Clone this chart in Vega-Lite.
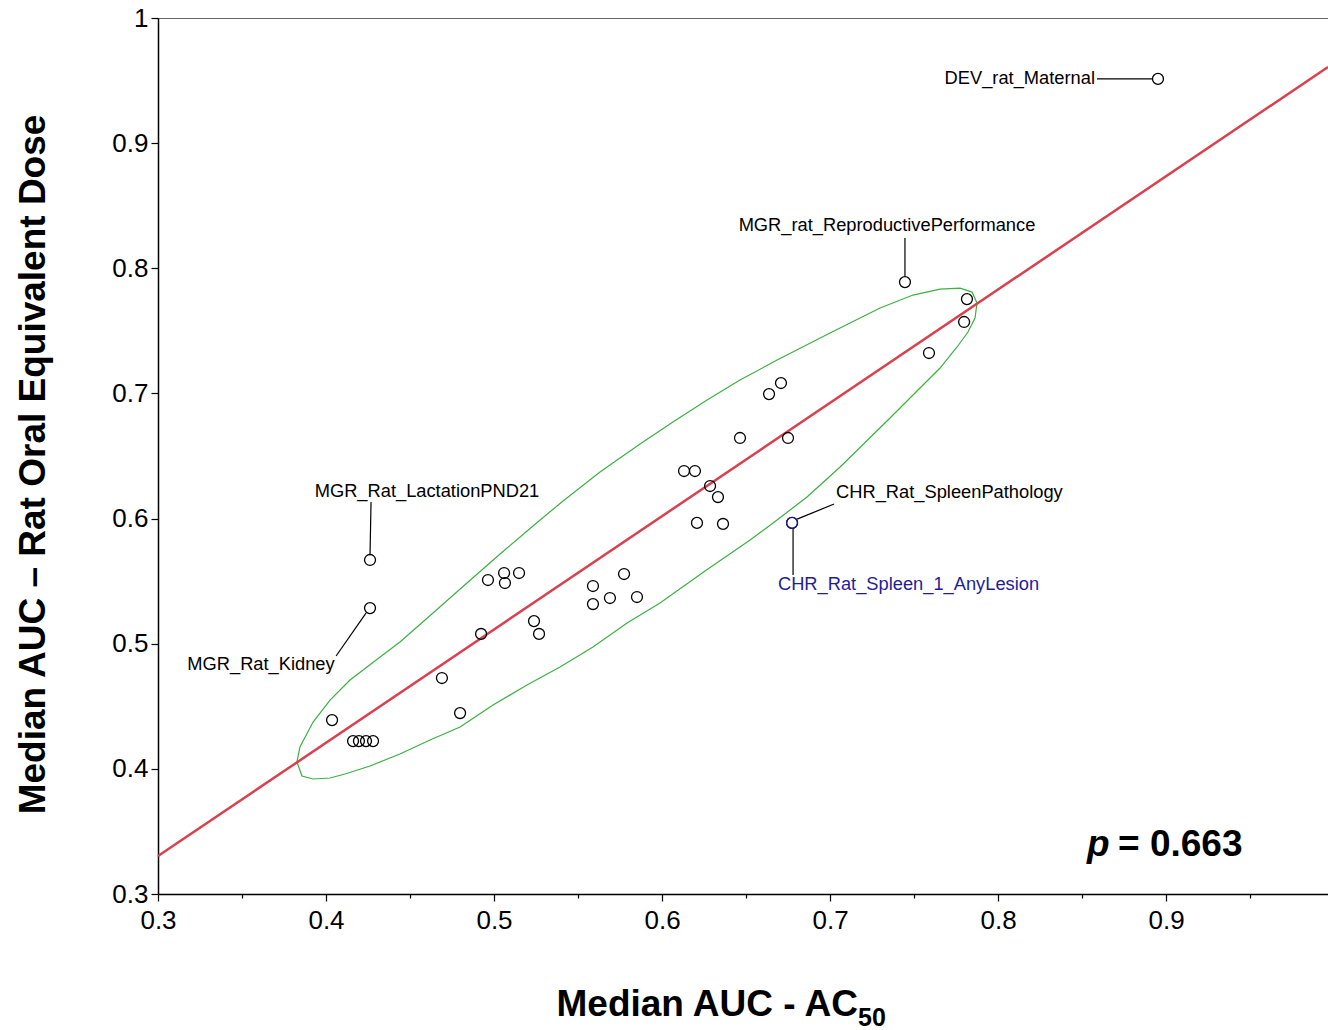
{
  "$schema": "https://vega.github.io/schema/vega-lite/v6.json",
  "width": 1170,
  "height": 876,
  "autosize": {"type": "none"},
  "padding": {"left": 158, "top": 18, "right": 0, "bottom": 136},
  "background": "white",
  "config": {
    "font": "Liberation Sans",
    "view": {"stroke": "#666", "strokeWidth": 1},
    "axis": {"grid": false, "domainColor": "black", "tickColor": "black", "labelColor": "black", "titleColor": "black", "labelFont": "Liberation Sans", "titleFont": "Liberation Sans"}
  },
  "datasets": {
    "ellipse": [
      {"order": 1, "x": 0.3827, "y": 0.4055},
      {"order": 2, "x": 0.3845, "y": 0.4175},
      {"order": 3, "x": 0.3923, "y": 0.4374},
      {"order": 4, "x": 0.4024, "y": 0.455},
      {"order": 5, "x": 0.4143, "y": 0.471},
      {"order": 6, "x": 0.4244, "y": 0.4814},
      {"order": 7, "x": 0.444, "y": 0.5014},
      {"order": 8, "x": 0.4637, "y": 0.5245},
      {"order": 9, "x": 0.4839, "y": 0.5485},
      {"order": 10, "x": 0.5036, "y": 0.5717},
      {"order": 11, "x": 0.5232, "y": 0.5941},
      {"order": 12, "x": 0.5411, "y": 0.6141},
      {"order": 13, "x": 0.5631, "y": 0.6372},
      {"order": 14, "x": 0.5869, "y": 0.6596},
      {"order": 15, "x": 0.6065, "y": 0.6772},
      {"order": 16, "x": 0.6268, "y": 0.6947},
      {"order": 17, "x": 0.6464, "y": 0.7107},
      {"order": 18, "x": 0.6685, "y": 0.7267},
      {"order": 19, "x": 0.7, "y": 0.7483},
      {"order": 20, "x": 0.7298, "y": 0.7683},
      {"order": 21, "x": 0.7494, "y": 0.7786},
      {"order": 22, "x": 0.7655, "y": 0.7834},
      {"order": 23, "x": 0.7774, "y": 0.7842},
      {"order": 24, "x": 0.7845, "y": 0.781},
      {"order": 25, "x": 0.7875, "y": 0.7723},
      {"order": 26, "x": 0.7863, "y": 0.7603},
      {"order": 27, "x": 0.7821, "y": 0.7491},
      {"order": 28, "x": 0.7756, "y": 0.7371},
      {"order": 29, "x": 0.7655, "y": 0.7203},
      {"order": 30, "x": 0.7357, "y": 0.6804},
      {"order": 31, "x": 0.706, "y": 0.6412},
      {"order": 32, "x": 0.6863, "y": 0.6172},
      {"order": 33, "x": 0.6661, "y": 0.5965},
      {"order": 34, "x": 0.6524, "y": 0.5829},
      {"order": 35, "x": 0.6256, "y": 0.5581},
      {"order": 36, "x": 0.5988, "y": 0.5325},
      {"order": 37, "x": 0.5792, "y": 0.5165},
      {"order": 38, "x": 0.5589, "y": 0.4974},
      {"order": 39, "x": 0.5393, "y": 0.4814},
      {"order": 40, "x": 0.5196, "y": 0.467},
      {"order": 41, "x": 0.4994, "y": 0.451},
      {"order": 42, "x": 0.4798, "y": 0.4334},
      {"order": 43, "x": 0.4619, "y": 0.423},
      {"order": 44, "x": 0.444, "y": 0.4119},
      {"order": 45, "x": 0.4262, "y": 0.4023},
      {"order": 46, "x": 0.4113, "y": 0.3959},
      {"order": 47, "x": 0.4024, "y": 0.3927},
      {"order": 48, "x": 0.3923, "y": 0.3919},
      {"order": 49, "x": 0.3857, "y": 0.3943},
      {"order": 50, "x": 0.3827, "y": 0.4055}
    ],
    "fit": [
      {"x": 0.3, "y": 0.3303},
      {"x": 0.9964, "y": 0.9608}
    ],
    "points": [
      {"name": "DEV_rat_Maternal", "x": 0.8952, "y": 0.9513},
      {"name": "MGR_rat_ReproductivePerformance", "x": 0.7446, "y": 0.789},
      {"name": "", "x": 0.7815, "y": 0.7754},
      {"name": "", "x": 0.7798, "y": 0.7571},
      {"name": "", "x": 0.7589, "y": 0.7323},
      {"name": "", "x": 0.6708, "y": 0.7083},
      {"name": "", "x": 0.6637, "y": 0.6995},
      {"name": "", "x": 0.6464, "y": 0.6644},
      {"name": "", "x": 0.675, "y": 0.6644},
      {"name": "", "x": 0.6131, "y": 0.638},
      {"name": "", "x": 0.6196, "y": 0.638},
      {"name": "", "x": 0.6286, "y": 0.626},
      {"name": "", "x": 0.6333, "y": 0.6172},
      {"name": "", "x": 0.6208, "y": 0.5965},
      {"name": "", "x": 0.6363, "y": 0.5957},
      {"name": "CHR_Rat_SpleenPathology", "x": 0.6774, "y": 0.5965},
      {"name": "CHR_Rat_Spleen_1_AnyLesion", "x": 0.6774, "y": 0.5965},
      {"name": "", "x": 0.5589, "y": 0.5461},
      {"name": "", "x": 0.5774, "y": 0.5557},
      {"name": "", "x": 0.5589, "y": 0.5317},
      {"name": "", "x": 0.569, "y": 0.5365},
      {"name": "", "x": 0.5851, "y": 0.5373},
      {"name": "", "x": 0.5238, "y": 0.5181},
      {"name": "", "x": 0.5268, "y": 0.5078},
      {"name": "", "x": 0.4964, "y": 0.5509},
      {"name": "", "x": 0.506, "y": 0.5565},
      {"name": "", "x": 0.5065, "y": 0.5485},
      {"name": "", "x": 0.5149, "y": 0.5565},
      {"name": "", "x": 0.4923, "y": 0.5078},
      {"name": "MGR_Rat_LactationPND21", "x": 0.4262, "y": 0.5669},
      {"name": "MGR_Rat_Kidney", "x": 0.4262, "y": 0.5285},
      {"name": "", "x": 0.469, "y": 0.4726},
      {"name": "", "x": 0.4798, "y": 0.4446},
      {"name": "", "x": 0.4036, "y": 0.439},
      {"name": "", "x": 0.4161, "y": 0.4222},
      {"name": "", "x": 0.4196, "y": 0.4222},
      {"name": "", "x": 0.4238, "y": 0.4222},
      {"name": "", "x": 0.428, "y": 0.4222}
    ],
    "leaders": [
      {"name": "DEV_rat_Maternal", "x": 0.8589, "y": 0.9513, "x2": 0.8917, "y2": 0.9513},
      {"name": "MGR_rat_ReproductivePerformance", "x": 0.7446, "y": 0.8242, "x2": 0.7446, "y2": 0.7938},
      {"name": "MGR_Rat_LactationPND21", "x": 0.4268, "y": 0.6132, "x2": 0.4262, "y2": 0.5709},
      {"name": "MGR_Rat_Kidney", "x": 0.406, "y": 0.4902, "x2": 0.4238, "y2": 0.5245},
      {"name": "CHR_Rat_SpleenPathology", "x": 0.7024, "y": 0.6116, "x2": 0.6804, "y2": 0.5996},
      {"name": "CHR_Rat_Spleen_1_AnyLesion", "x": 0.678, "y": 0.5925, "x2": 0.678, "y2": 0.5549}
    ],
    "labelsRight": [
      {"text": "DEV_rat_Maternal", "x": 0.8577, "y": 0.9513}
    ],
    "labelsCenter": [
      {"text": "MGR_rat_ReproductivePerformance", "x": 0.7339, "y": 0.8338},
      {"text": "MGR_Rat_LactationPND21", "x": 0.4601, "y": 0.6212},
      {"text": "MGR_Rat_Kidney", "x": 0.3613, "y": 0.483}
    ],
    "labelsLeft": [
      {"text": "CHR_Rat_SpleenPathology", "x": 0.7036, "y": 0.6204},
      {"text": "CHR_Rat_Spleen_1_AnyLesion", "x": 0.669, "y": 0.5469}
    ],
    "pSymbol": [{"text": "p", "x": 0.853, "y": 0.3303}],
    "pValue": [{"text": "= 0.663", "x": 0.8714, "y": 0.3303}],
    "subscript": [{"text": "50", "x": 0.7167, "y": 0.1945}]
  },
  "encoding": {
    "x": {
      "field": "x", "type": "quantitative",
      "scale": {"domain": [0.3, 0.9964], "nice": false, "zero": false},
      "axis": {
        "values": [0.3, 0.35, 0.4, 0.45, 0.5, 0.55, 0.6, 0.65, 0.7, 0.75, 0.8, 0.85, 0.9, 0.95],
        "labelExpr": "abs(datum.value*10 - round(datum.value*10)) < 0.001 ? format(datum.value, '.1f') : ''",
        "tickSize": {"condition": {"test": "abs(datum.value*10 - round(datum.value*10)) < 0.001", "value": 7}, "value": 4},
        "tickWidth": 1.2,
        "domainWidth": 1.5,
        "labelFontSize": 26,
        "labelPadding": 6,
        "labelFlush": false,
        "labelOverlap": false,
        "title": "Median AUC - AC",
        "titleFontSize": 37,
        "titleFontWeight": "bold",
        "titleAlign": "left",
        "titleBaseline": "alphabetic",
        "titleX": 398,
        "titleY": 121
      }
    },
    "y": {
      "field": "y", "type": "quantitative",
      "scale": {"domain": [0.3, 1.0], "nice": false, "zero": false},
      "axis": {
        "values": [0.3, 0.4, 0.5, 0.6, 0.7, 0.8, 0.9, 1.0],
        "labelExpr": "datum.value >= 0.999 ? '1' : format(datum.value, '.1f')",
        "tickSize": 7,
        "tickWidth": 1.2,
        "domainWidth": 1.5,
        "labelFontSize": 26,
        "labelPadding": 3,
        "labelFlush": false,
        "labelOverlap": false,
        "title": "Median AUC \u2013 Rat Oral Equivalent Dose",
        "titleFontSize": 37,
        "titleFontWeight": "bold",
        "titleAngle": -90,
        "titleAlign": "center",
        "titleBaseline": "alphabetic",
        "titleX": -114,
        "titleY": 446
      }
    }
  },
  "layer": [
    {
      "data": {"name": "ellipse"},
      "mark": {"type": "line", "color": "#3cb043", "strokeWidth": 1.2},
      "encoding": {
        "order": {"field": "order", "type": "quantitative"}
      }
    },
    {
      "data": {"name": "fit"},
      "mark": {"type": "line", "color": "#d9414e", "strokeWidth": 2.5},
      "encoding": {}
    },
    {
      "data": {"name": "leaders"},
      "mark": {"type": "rule", "color": "black", "strokeWidth": 1.2},
      "encoding": {
        "x2": {"field": "x2"},
        "y2": {"field": "y2"}
      }
    },
    {
      "data": {"name": "points"},
      "mark": {"type": "point", "filled": false, "size": 120, "strokeWidth": 1.3, "opacity": 1},
      "encoding": {
        "stroke": {"condition": {"test": "datum.name == 'CHR_Rat_Spleen_1_AnyLesion'", "value": "#1c1c8c"}, "value": "black"}
      }
    },
    {
      "data": {"name": "labelsRight"},
      "mark": {"type": "text", "align": "right", "baseline": "middle", "fontSize": 18.3, "color": "black"},
      "encoding": {"text": {"field": "text"}}
    },
    {
      "data": {"name": "labelsCenter"},
      "mark": {"type": "text", "align": "center", "baseline": "middle", "fontSize": 18.3, "color": "black"},
      "encoding": {"text": {"field": "text"}}
    },
    {
      "data": {"name": "labelsLeft"},
      "mark": {"type": "text", "align": "left", "baseline": "middle", "fontSize": 18.3},
      "encoding": {
        "text": {"field": "text"},
        "color": {"condition": {"test": "datum.text == 'CHR_Rat_Spleen_1_AnyLesion'", "value": "#1e1e96"}, "value": "black"}
      }
    },
    {
      "data": {"name": "pSymbol"},
      "mark": {"type": "text", "align": "left", "baseline": "alphabetic", "fontSize": 37, "fontWeight": "bold", "fontStyle": "italic", "color": "black"},
      "encoding": {"text": {"field": "text"}}
    },
    {
      "data": {"name": "pValue"},
      "mark": {"type": "text", "align": "left", "baseline": "alphabetic", "fontSize": 37, "fontWeight": "bold", "color": "black"},
      "encoding": {"text": {"field": "text"}}
    },
    {
      "data": {"name": "subscript"},
      "mark": {"type": "text", "align": "left", "baseline": "alphabetic", "fontSize": 25, "fontWeight": "bold", "color": "black"},
      "encoding": {"text": {"field": "text"}}
    }
  ]
}
